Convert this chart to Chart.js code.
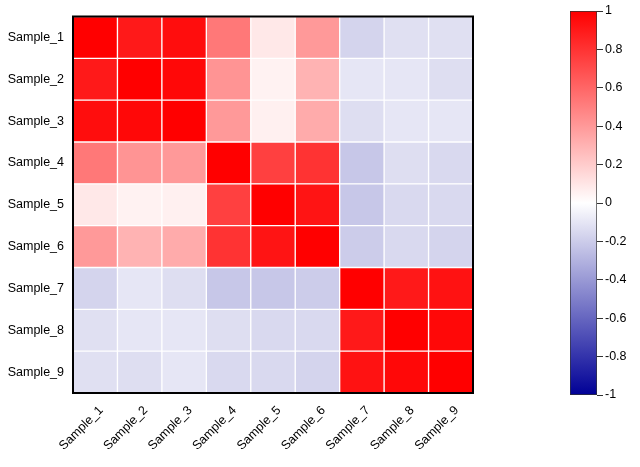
<!DOCTYPE html>
<html>
<head>
<meta charset="utf-8">
<script src="https://cdn.jsdelivr.net/npm/chart.js@4"></script>
<style>
  body { margin: 0; background: #fff; width: 640px; height: 467px; position: relative; overflow: hidden; }
  #heat { position: absolute; left: 0; top: 0; }
  #bar { position: absolute; left: 540px; top: 0; }
</style>
</head>
<body>
<canvas id="heat" width="490" height="467"></canvas>
<canvas id="bar" width="100" height="467"></canvas>
<script>
// sample names, used for both axes
const samples = ["Sample_1", "Sample_2", "Sample_3", "Sample_4", "Sample_5", "Sample_6", "Sample_7", "Sample_8", "Sample_9"];

// correlation rows (row i = Sample_i)
const row1 = [1.00, 0.90, 0.95, 0.53, 0.09, 0.40, -0.17, -0.12, -0.12];
const row2 = [0.90, 1.00, 0.97, 0.42, 0.05, 0.30, -0.10, -0.10, -0.13];
const row3 = [0.95, 0.97, 1.00, 0.40, 0.06, 0.33, -0.13, -0.10, -0.10];
const row4 = [0.53, 0.42, 0.40, 1.00, 0.75, 0.80, -0.22, -0.13, -0.15];
const row5 = [0.09, 0.05, 0.06, 0.75, 1.00, 0.92, -0.22, -0.15, -0.15];
const row6 = [0.40, 0.30, 0.33, 0.80, 0.92, 1.00, -0.20, -0.15, -0.17];
const row7 = [-0.17, -0.10, -0.13, -0.22, -0.22, -0.20, 1.00, 0.90, 0.93];
const row8 = [-0.12, -0.10, -0.10, -0.13, -0.15, -0.15, 0.90, 1.00, 0.97];
const row9 = [-0.12, -0.13, -0.10, -0.15, -0.15, -0.17, 0.93, 0.97, 1.00];
const rows = [row1, row2, row3, row4, row5, row6, row7, row8, row9];

// colour bar ticks
const scaleMin = -1, scaleMax = 1, scaleStep = 0.2;

const NAVY = [0, 0, 150];

function corrColor(v) {
    if (v >= 0) {
        const g = Math.round(255 * (1 - v));
        return `rgb(255,${g},${g})`;
    }
    const t = -v;
    const r = Math.round(255 * (1 - t) + NAVY[0] * t);
    const b = Math.round(255 * (1 - t) + NAVY[2] * t);
    return `rgb(${r},${r},${b})`;
}

const font = { family: "Arial, 'Liberation Sans', sans-serif", size: 12.5 };

// one dataset per row, drawn bottom-up (Sample_9 at the bottom)
const datasets = [];
for (let k = 0; k < rows.length; k++) {
    const r = rows.length - 1 - k;
    datasets.push({
        label: samples[r],
        data: samples.map(() => [k, k + 1]),
        backgroundColor: rows[r].map(corrColor),
        borderColor: "#ffffff",
        borderWidth: 1,
        borderSkipped: false,
        barPercentage: 1,
        categoryPercentage: 1,
        grouped: false
    });
}

const frame = {
    id: "frame",
    afterDraw(chart) {
        const a = chart.chartArea, ctx = chart.ctx;
        ctx.save();
        ctx.strokeStyle = "#000";
        ctx.lineWidth = 2;
        ctx.strokeRect(a.left, a.top, a.right - a.left, a.bottom - a.top);
        ctx.restore();
    }
};

new Chart(document.getElementById("heat"), {
    type: "bar",
    data: { labels: samples, datasets: datasets },
    options: {
        responsive: false,
        animation: false,
        layout: { padding: { top: 10, right: 17, left: 0, bottom: 0 } },
        plugins: { legend: { display: false }, tooltip: { enabled: false } },
        scales: {
            x: {
                grid: { display: false, drawTicks: false },
                border: { display: false },
                ticks: { font: font, color: "#000", maxRotation: 45, minRotation: 45, padding: 10, labelOffset: 6 },
                afterFit(s) { s.height = 74; }
            },
            y: {
                min: 0, max: 9,
                grid: { display: false, drawTicks: false },
                border: { display: false },
                afterBuildTicks(s) { s.ticks = samples.map((_, i) => ({ value: i + 0.5 })); },
                ticks: {
                    font: font, color: "#000", padding: 9,
                    callback: (v) => samples[samples.length - 1 - Math.floor(v)]
                },
                afterFit(s) { s.width = 73; }
            }
        }
    },
    plugins: [frame]
});

// colour bar
new Chart(document.getElementById("bar"), {
    type: "bar",
    data: {
        labels: [""],
        datasets: [{
            data: [[scaleMin, scaleMax]],
            backgroundColor(c) {
                const a = c.chart.chartArea;
                if (!a) return "#fff";
                const g = c.chart.ctx.createLinearGradient(0, a.bottom, 0, a.top);
                g.addColorStop(0, corrColor(-1));
                g.addColorStop(0.5, corrColor(0));
                g.addColorStop(1, corrColor(1));
                return g;
            },
            borderColor: "#333",
            borderWidth: 1,
            borderSkipped: false,
            barPercentage: 1,
            categoryPercentage: 1
        }]
    },
    options: {
        responsive: false,
        animation: false,
        layout: { padding: { top: 11, left: 30, right: 0, bottom: 72 } },
        plugins: { legend: { display: false }, tooltip: { enabled: false } },
        scales: {
            x: { display: false },
            y: {
                position: "right",
                min: scaleMin, max: scaleMax,
                grid: { drawOnChartArea: false, drawTicks: true, tickLength: 6, color: "#333" },
                border: { display: false },
                ticks: {
                    stepSize: scaleStep, font: font, color: "#000", padding: 2,
                    callback: (v) => String(Math.round(v * 10) / 10)
                },
                afterFit(s) { s.width = 43; }
            }
        }
    }
});
</script>
</body>
</html>
